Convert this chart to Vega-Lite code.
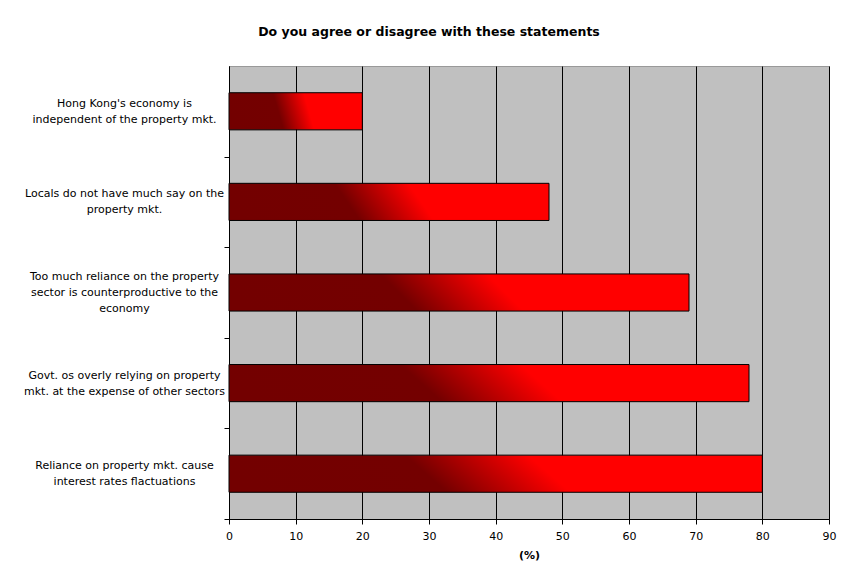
{
  "$schema": "https://vega.github.io/schema/vega-lite/v6.json",
  "autosize": {"type": "none"},
  "width": 600,
  "height": 453,
  "padding": {"left": 229, "top": 66, "right": 25, "bottom": 66},
  "background": "white",
  "title": {
    "text": "Do you agree or disagree with these statements",
    "font": "DejaVu Sans",
    "fontSize": 12.5,
    "fontWeight": "bold",
    "color": "black",
    "anchor": "middle",
    "dx": -100,
    "offset": 28
  },
  "data": {
    "values": [
      {"statement": "Hong Kong's economy is|independent of the property mkt.", "pct": 20},
      {"statement": "Locals do not have much say on the|property mkt.", "pct": 48},
      {"statement": "Too much reliance on the property|sector is counterproductive to the|economy", "pct": 69},
      {"statement": "Govt. os overly relying on property|mkt. at the expense of other sectors", "pct": 78},
      {"statement": "Reliance on property mkt. cause|interest rates flactuations", "pct": 80}
    ]
  },
  "mark": {
    "type": "bar",
    "stroke": "black",
    "strokeWidth": 1,
    "fill": {
      "gradient": "linear",
      "x1": 0, "y1": 0.54, "x2": 1, "y2": 0.46,
      "stops": [
        {"offset": 0, "color": "#730000"},
        {"offset": 0.37, "color": "#740000"},
        {"offset": 0.6, "color": "#ff0000"},
        {"offset": 1, "color": "#ff0000"}
      ]
    }
  },
  "encoding": {
    "y": {
      "field": "statement",
      "type": "nominal",
      "sort": null,
      "scale": {"paddingInner": 0.59, "paddingOuter": 0.295},
      "axis": {
        "title": null,
        "labelExpr": "split(datum.label, '|')",
        "labelAlign": "center",
        "labelBaseline": "middle",
        "labelPadding": 100,
        "labelFont": "DejaVu Sans",
        "labelFontSize": 11,
        "labelColor": "black",
        "labelLimit": 400,
        "labelLineHeight": 16,
        "tickOffset": 45.3,
        "labelOffset": {"expr": "-45.3 - (length(split(datum.label, '|')) - 1) * 8"},
        "tickSize": 5,
        "tickColor": "black",
        "domainColor": "black",
        "grid": false
      }
    },
    "x": {
      "field": "pct",
      "type": "quantitative",
      "scale": {"domain": [0, 90], "nice": false},
      "axis": {
        "title": "(%)",
        "titleFont": "DejaVu Sans",
        "titleFontSize": 11,
        "titleFontWeight": "bold",
        "titleColor": "black",
        "titlePadding": 8,
        "values": [0, 10, 20, 30, 40, 50, 60, 70, 80, 90],
        "labelFlush": false,
        "labelFont": "DejaVu Sans",
        "labelFontSize": 11,
        "labelColor": "black",
        "labelPadding": 6,
        "tickSize": 5,
        "tickColor": "black",
        "domainColor": "black",
        "grid": true,
        "gridColor": "black",
        "gridOpacity": 1,
        "gridWidth": 1
      }
    }
  },
  "config": {
    "view": {"fill": "#c0c0c0", "stroke": "#999999"}
  }
}
